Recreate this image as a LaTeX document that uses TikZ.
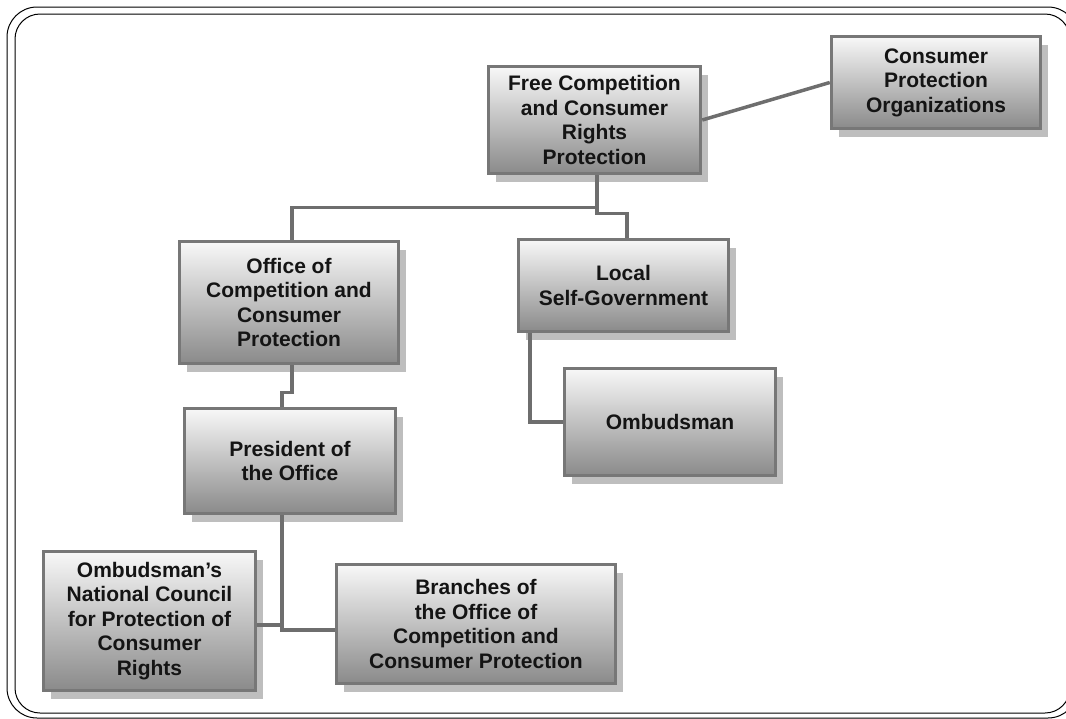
\documentclass[tikz,border=0pt]{standalone}
\usepackage{fontspec}
\setmainfont{Liberation Sans}
\usepackage{xcolor}
\definecolor{cBorder}{HTML}{777777}
\definecolor{cLink}{HTML}{6E6E6E}
\definecolor{cShade}{HTML}{BEBEBE}
\definecolor{cTop}{HTML}{F8F8F8}
\definecolor{cBottom}{HTML}{8A8A8A}
\definecolor{cText}{HTML}{141414}
\usetikzlibrary{positioning,shadows,calc}
\tikzset{
  org-box/.style={draw=cBorder,line width=3.5pt,top color=cTop,bottom color=cBottom,
    drop shadow={shadow xshift=7pt,shadow yshift=-8pt,fill=cShade,opacity=1},
    align=center,text=cText,inner sep=0pt,
    font=\fontsize{21}{24.5}\selectfont\bfseries},
  link/.style={draw=cLink,line width=3.5pt},
  frame-line/.style={draw=black,line width=1pt,rounded corners=30pt},
}

\begin{document}
\begin{tikzpicture}[x=1pt,y=-1pt]
  \useasboundingbox (0,0) rectangle (1066,718);
  % outer frame
  \draw[frame-line] (7,7) rectangle (1078,718);
  \draw[frame-line,rounded corners=25pt] (15,14) rectangle (1070,713);

  % boxes
  \node[org-box,minimum width=212pt,minimum height=107pt] (fc) at (594.5,120)
    {Free Competition\\and Consumer\\Rights\\Protection};
  \node[org-box,minimum width=209pt,minimum height=92pt] (cpo) at (936,82.5)
    {Consumer\\Protection\\Organizations};
  \node[org-box,minimum width=219pt,minimum height=122pt] (oc) at (289,302.5)
    {Office of\\Competition and\\Consumer\\Protection};
  \node[org-box,minimum width=210pt,minimum height=92pt] (lsg) at (623.5,285.5)
    {Local\\Self-Government};
  \node[org-box,minimum width=211pt,minimum height=107pt] (omb) at (670,422)
    {Ombudsman};
  \node[org-box,minimum width=211pt,minimum height=105pt] (pres) at (290,461)
    {President of\\the Office};
  \node[org-box,minimum width=212pt,minimum height=139pt] (onc) at (149.5,621)
    {Ombudsman’s\\National Council\\for Protection of\\Consumer\\Rights};
  \node[org-box,minimum width=279pt,minimum height=119pt] (br) at (476,624)
    {Branches of\\the Office of\\Competition and\\Consumer Protection};

  % connectors
  \draw[link] (fc.east) -- (cpo.west);
  \draw[link] ([xshift=2.5pt]fc.south) -- ++(0,32) -| ([xshift=3pt]oc.north);
  \draw[link] ([xshift=2.5pt]fc.south) -- ++(0,38) -| ([xshift=3.5pt]lsg.north);
  \draw[link] ([xshift=13pt]lsg.south west) |- (omb.west);
  \coordinate (pdrop) at ([xshift=-8pt]pres.south);
  \draw[link] ([xshift=3pt]oc.south) -- ++(0,27) -| ([xshift=-8pt]pres.north);
  \draw[link] (pdrop) |- ([yshift=-6pt]br.west);
  \draw[link] ([yshift=-4pt]onc.east) -- ([yshift=-4pt]onc.east -| pdrop);
\end{tikzpicture}
\end{document}
